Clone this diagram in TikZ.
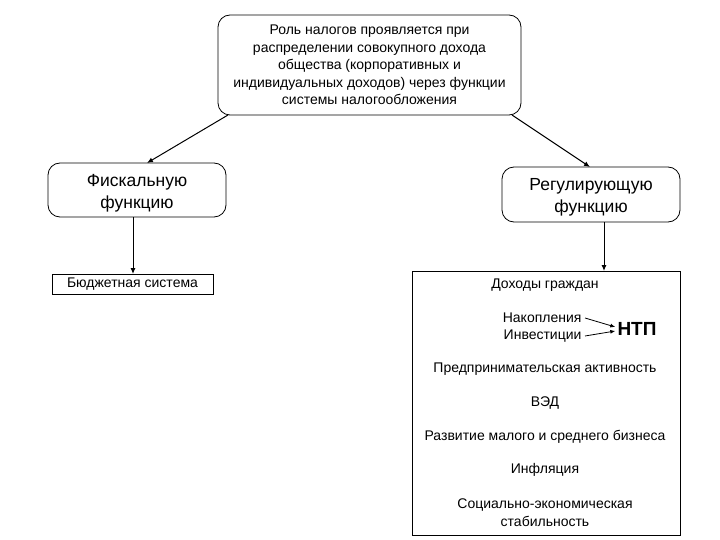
\documentclass[tikz,border=0pt]{standalone}
\usepackage{fontspec}
\setmainfont{Liberation Sans}
\usetikzlibrary{arrows.meta}
\begin{document}
\begin{tikzpicture}[x=1pt,y=-1pt,
  rbox/.style={draw,rounded corners=12pt,line width=0.8pt,inner sep=0pt},
  sbox/.style={draw,line width=0.8pt,inner sep=0pt},
  txt/.style={font=\fontsize{14}{17.5}\selectfont,align=center},
  big/.style={font=\fontsize{17.5}{22}\selectfont,align=center},
  arr/.style={-{Latex[length=6pt,width=5pt]},line width=1pt},
  sarr/.style={-{Latex[length=5pt,width=4pt]},line width=0.8pt}]
\useasboundingbox (0,0) rectangle (720,540);
\node[rbox,minimum width=303pt,minimum height=100pt] (top) at (369.5,65) {};
\node[txt] at (369.5,65) {Роль налогов проявляется при\\распределении совокупного дохода\\общества (корпоративных и\\индивидуальных доходов) через функции\\системы налогообложения};
\node[rbox,minimum width=178pt,minimum height=54pt] (fis) at (137,190) {};
\node[big] at (137,193) {Фискальную\\функцию};
\node[rbox,minimum width=178pt,minimum height=55pt] (reg) at (591,194.5) {};
\node[big] at (591,197.5) {Регулирующую\\функцию};
\coordinate (t1) at (228,115);
\coordinate (t2) at (512,115);
\draw[arr] (t1) -- (147,163);
\draw[arr] (t2) -- (590,167);
\node[sbox,minimum width=161pt,minimum height=20pt,txt] (bud) at (132.5,284) {Бюджетная система};
\node[sbox,minimum width=268pt,minimum height=264pt] (gb) at (546,403) {};
\draw[arr] (fis.south -| 133,0) -- (133,274);
\draw[arr] (reg.south -| 604,0) -- (604,271);
\node[txt] (dg) at (545,285) {Доходы граждан};
\node[txt,anchor=east] (nak) at (585,318) {Накопления};
\node[txt,anchor=east] (inv) at (585,336) {Инвестиции};
\node[font=\bfseries\fontsize{19}{22}\selectfont,inner sep=2pt] (ntp) at (637,329) {НТП};
\draw[sarr] (nak.east) -- (ntp.west |- 0,327);
\draw[sarr] (inv.east) -- (ntp.west |- 0,331);
\node[txt] (pa) at (545,369) {Предпринимательская активность};
\node[txt] (ved) at (545,403) {ВЭД};
\node[txt] (rm) at (545,437) {Развитие малого и среднего бизнеса};
\node[txt] (inf) at (545,470) {Инфляция};
\node[txt] (soc) at (545,512.5) {Социально-экономическая\\стабильность};
\end{tikzpicture}
\end{document}
